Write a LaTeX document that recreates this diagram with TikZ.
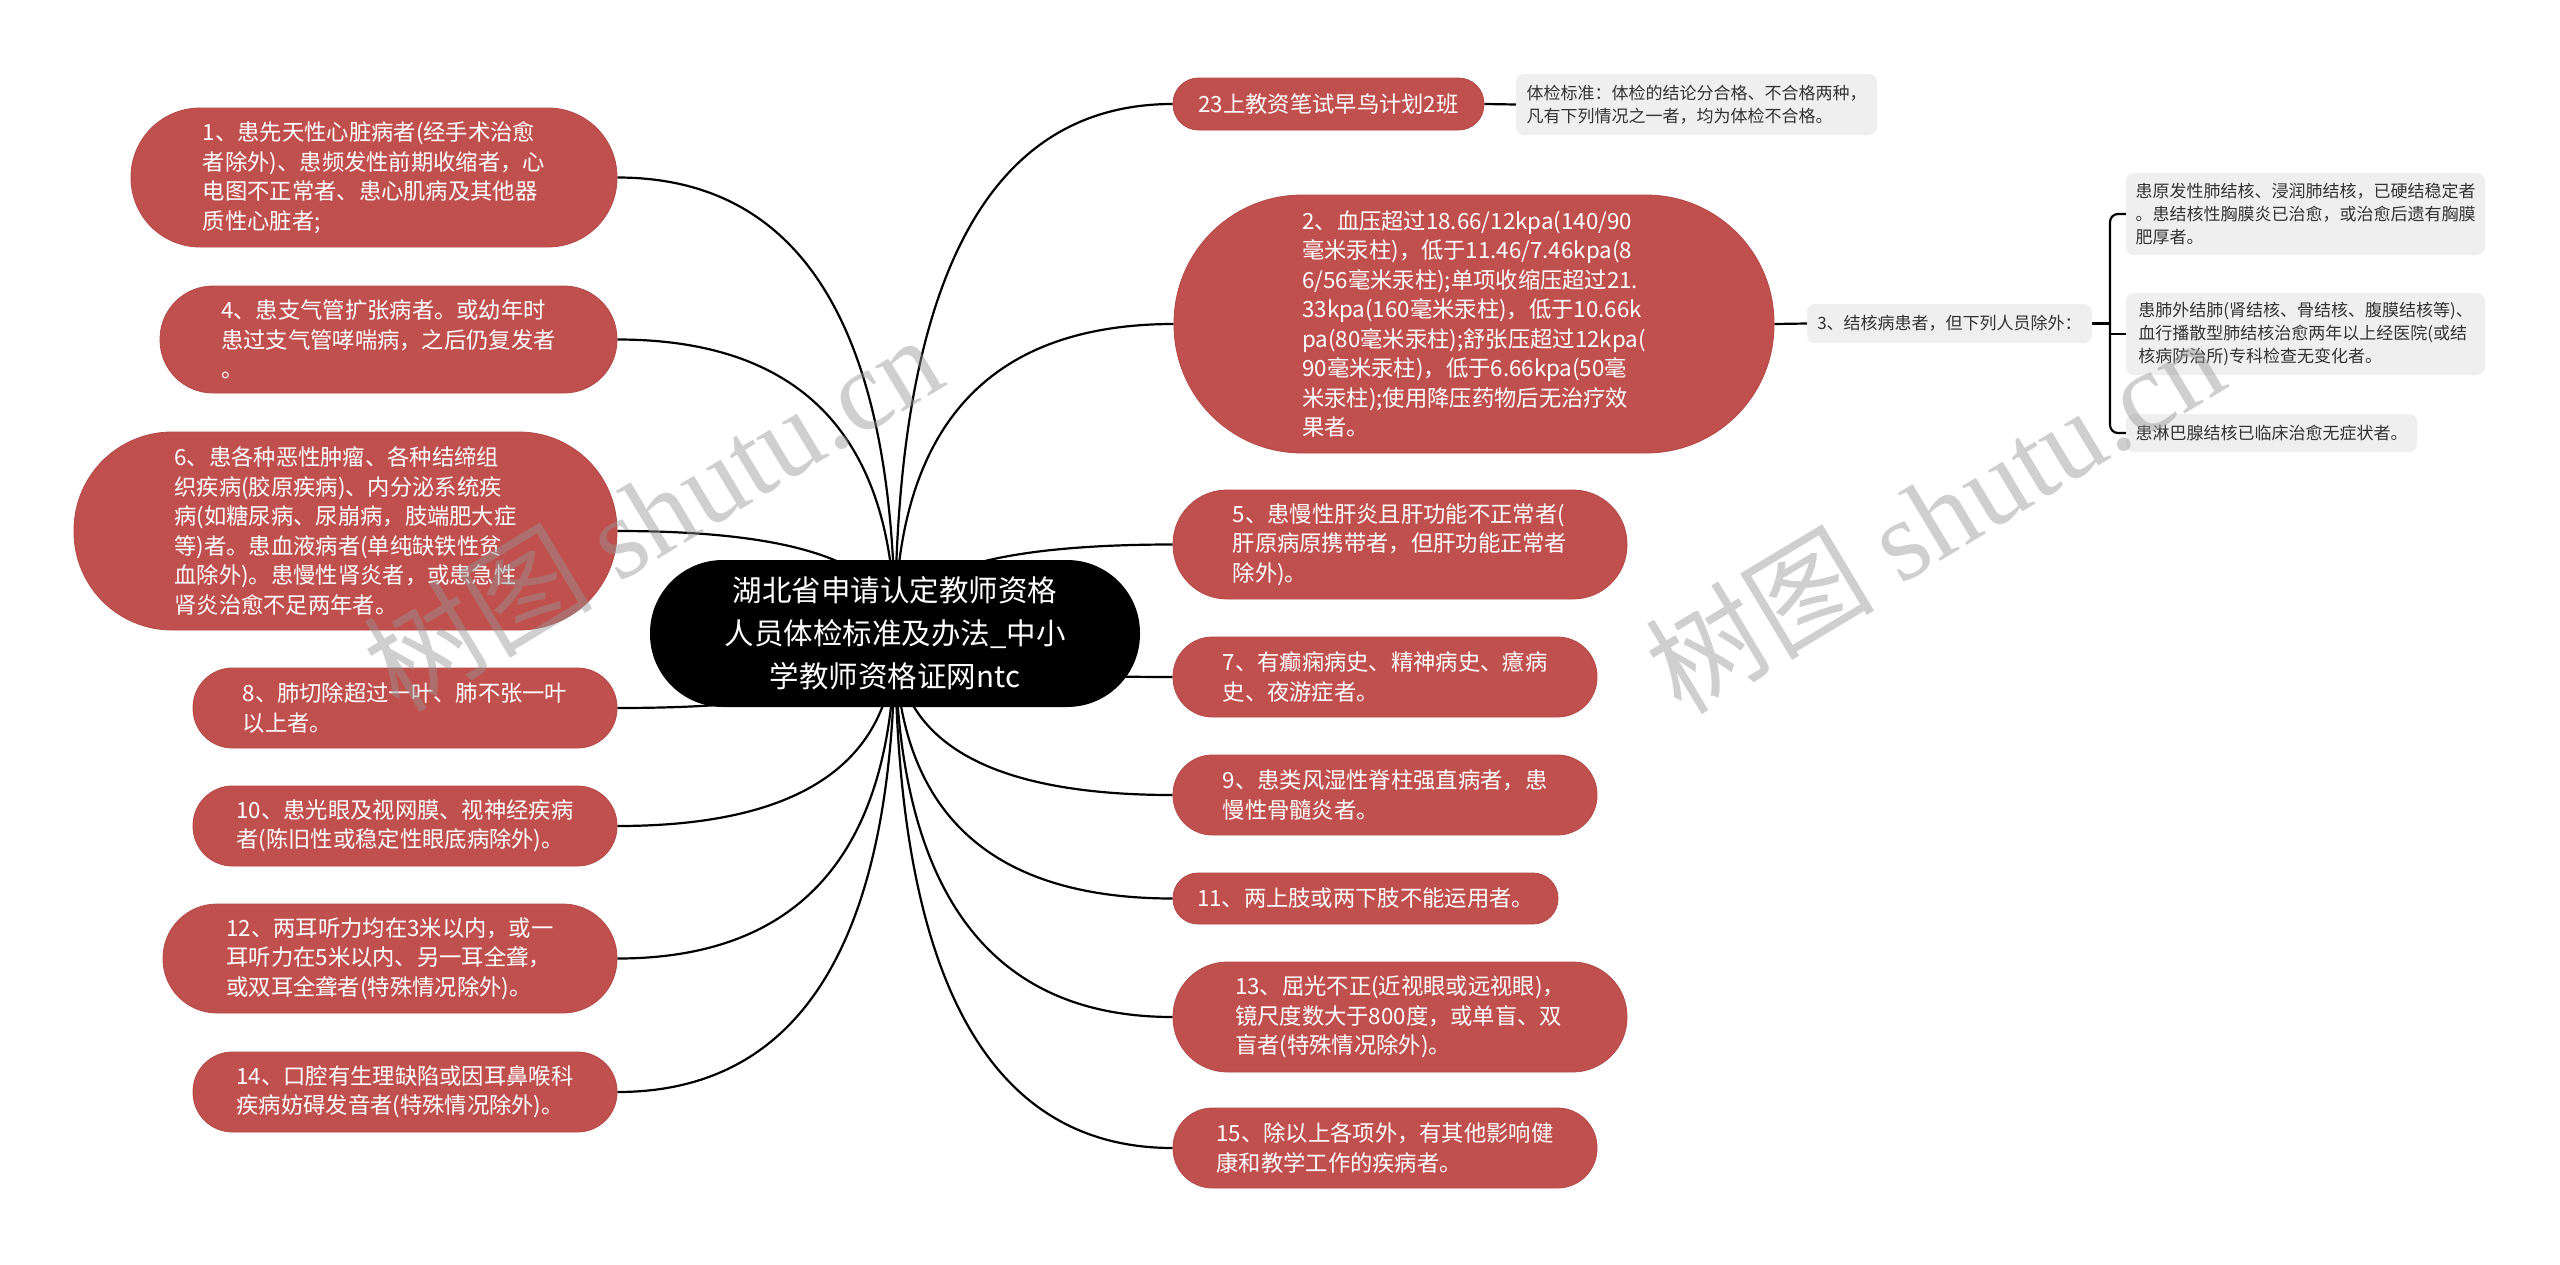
\documentclass[tikz,border=0pt]{standalone}
\usepackage{fontspec}
\setmainfont{Noto Sans CJK SC}
\newfontfamily\cjk{Noto Sans CJK SC}
\newfontfamily\wmserif{Liberation Serif}
\usetikzlibrary{calc}
\pgfdeclarelayer{paper}
\pgfdeclarelayer{bg}
\pgfdeclarelayer{fg}
\pgfsetlayers{paper,bg,main,fg}
\definecolor{nodered}{RGB}{192,80,77}
\definecolor{nodeline}{RGB}{180,72,70}
\definecolor{notegray}{RGB}{239,239,239}
\definecolor{notetext}{RGB}{51,51,51}
\definecolor{wm}{RGB}{150,150,150}
\newcommand\rootlink[2]{%
  \coordinate (k#1) at (root.center |- #1.#2);
  \draw[conn] (root.center) .. controls ($(root.center)!0.6667!(k#1)$) and ($(#1.#2)!0.6667!(k#1)$) .. (#1.#2);
}
\begin{document}
\begin{tikzpicture}[x=1pt,y=-1pt,
  redbox/.style={fill=nodered, draw=nodeline, line width=0.8pt, text=white, align=left, inner sep=0pt, font=\cjk\fontsize{22.3pt}{29.5pt}\selectfont},
  graybox/.style={fill=notegray, rounded corners=8pt, text=notetext, align=left, inner sep=0pt, font=\cjk\fontsize{17pt}{23pt}\selectfont},
  rootbox/.style={fill=black, text=white, align=center, inner sep=0pt, font=\cjk\fontsize{29.5pt}{43pt}\selectfont},
  conn/.style={draw=black, line width=2.2pt},
  wmark/.style={text=wm, text opacity=0.45, rotate=31, inner sep=0pt, font=\fontsize{115pt}{115pt}\selectfont}
]
\begin{pgfonlayer}{paper}
\fill[white] (0,0) rectangle (2560,1264);
\end{pgfonlayer}
\useasboundingbox (0,0) rectangle (2560,1264);

% root
\node[rootbox, minimum width=490pt, minimum height=147pt, rounded corners=73pt] (root) at (895,633.5)
  {湖北省申请认定教师资格\\人员体检标准及办法\_中小\\学教师资格证网ntc};

% left side
\node[redbox, minimum width=486pt, minimum height=139pt, rounded corners=69pt] (n1) at (374,177.5)
  {1、患先天性心脏病者(经手术治愈\\者除外)、患频发性前期收缩者，心\\电图不正常者、患心肌病及其他器\\质性心脏者;};
\node[redbox, minimum width=457pt, minimum height=107pt, rounded corners=53pt] (n4) at (388.5,339.5)
  {4、患支气管扩张病者。或幼年时\\患过支气管哮喘病，之后仍复发者\\。};
\node[redbox, minimum width=543pt, minimum height=198pt, rounded corners=98pt] (n6) at (345.5,531)
  {6、患各种恶性肿瘤、各种结缔组\\织疾病(胶原疾病)、内分泌系统疾\\病(如糖尿病、尿崩病，肢端肥大症\\等)者。患血液病者(单纯缺铁性贫\\血除外)。患慢性肾炎者，或患急性\\肾炎治愈不足两年者。};
\node[redbox, minimum width=424pt, minimum height=80pt, rounded corners=39.5pt] (n8) at (405,708)
  {8、肺切除超过一叶、肺不张一叶\\以上者。};
\node[redbox, minimum width=424pt, minimum height=80pt, rounded corners=39.5pt] (n10) at (405,826)
  {10、患光眼及视网膜、视神经疾病\\者(陈旧性或稳定性眼底病除外)。};
\node[redbox, minimum width=454pt, minimum height=109pt, rounded corners=54pt] (n12) at (390,958.5)
  {12、两耳听力均在3米以内，或一\\耳听力在5米以内、另一耳全聋，\\或双耳全聋者(特殊情况除外)。};
\node[redbox, minimum width=424pt, minimum height=80pt, rounded corners=39.5pt] (n14) at (405,1092)
  {14、口腔有生理缺陷或因耳鼻喉科\\疾病妨碍发音者(特殊情况除外)。};

% right side
\node[redbox, minimum width=311pt, minimum height=52pt, rounded corners=25.5pt] (t23) at (1328.5,104)
  {23上教资笔试早鸟计划2班};
\node[graybox, minimum width=361pt, minimum height=61pt] (note) at (1696.5,104.5)
  {体检标准：体检的结论分合格、不合格两种，\\凡有下列情况之一者，均为体检不合格。};
\node[redbox, minimum width=600pt, minimum height=258pt, rounded corners=128pt] (n2) at (1474,324)
  {2、血压超过18.66/12kpa(140/90\\毫米汞柱)，低于11.46/7.46kpa(8\\6/56毫米汞柱);单项收缩压超过21.\\33kpa(160毫米汞柱)，低于10.66k\\pa(80毫米汞柱);舒张压超过12kpa(\\90毫米汞柱)，低于6.66kpa(50毫\\米汞柱);使用降压药物后无治疗效\\果者。};
\node[graybox, minimum width=285pt, minimum height=39pt] (b3) at (1949.5,323.5)
  {3、结核病患者，但下列人员除外：};
\node[graybox, minimum width=359pt, minimum height=82pt] (sa) at (2305.5,214)
  {患原发性肺结核、浸润肺结核，已硬结稳定者\\。患结核性胸膜炎已治愈，或治愈后遗有胸膜\\肥厚者。};
\node[graybox, minimum width=359pt, minimum height=82pt] (sb) at (2305.5,334)
  {患肺外结肺(肾结核、骨结核、腹膜结核等)、\\血行播散型肺结核治愈两年以上经医院(或结\\核病防治所)专科检查无变化者。};
\node[graybox, minimum width=291pt, minimum height=38pt] (sc) at (2271.5,433)
  {患淋巴腺结核已临床治愈无症状者。};
\node[redbox, minimum width=454pt, minimum height=109pt, rounded corners=54pt] (n5) at (1400,544.5)
  {5、患慢性肝炎且肝功能不正常者(\\肝原病原携带者，但肝功能正常者\\除外)。};
\node[redbox, minimum width=424pt, minimum height=80pt, rounded corners=39.5pt] (n7) at (1385,677)
  {7、有癫痫病史、精神病史、癔病\\史、夜游症者。};
\node[redbox, minimum width=424pt, minimum height=80pt, rounded corners=39.5pt] (n9) at (1385,795)
  {9、患类风湿性脊柱强直病者，患\\慢性骨髓炎者。};
\node[redbox, minimum width=385pt, minimum height=51pt, rounded corners=25pt] (n11) at (1365.5,898.5)
  {11、两上肢或两下肢不能运用者。};
\node[redbox, minimum width=454pt, minimum height=110pt, rounded corners=54.5pt] (n13) at (1400,1017)
  {13、屈光不正(近视眼或远视眼)，\\镜尺度数大于800度，或单盲、双\\盲者(特殊情况除外)。};
\node[redbox, minimum width=424pt, minimum height=80pt, rounded corners=39.5pt] (n15) at (1385,1148)
  {15、除以上各项外，有其他影响健\\康和教学工作的疾病者。};

\coordinate (brx) at (2110,0);

\begin{pgfonlayer}{bg}
  \rootlink{n1}{east}
  \rootlink{n4}{east}
  \rootlink{n6}{east}
  \rootlink{n8}{east}
  \rootlink{n10}{east}
  \rootlink{n12}{east}
  \rootlink{n14}{east}
  \rootlink{t23}{west}
  \rootlink{n2}{west}
  \rootlink{n5}{west}
  \rootlink{n7}{west}
  \rootlink{n9}{west}
  \rootlink{n11}{west}
  \rootlink{n13}{west}
  \rootlink{n15}{west}
  \draw[conn] (t23.east) -- (note.west);
  \draw[conn] (n2.east) -- (b3.west);
  \draw[conn] (b3.east) -- (b3.east -| brx);
  \draw[conn, rounded corners=8pt] (sa.west) -- (sa.west -| brx) -- (sc.west -| brx) -- (sc.west);
  \draw[conn] (sb.west -| brx) -- (sb.west);
\end{pgfonlayer}

\begin{pgfonlayer}{fg}
  \node[wmark] (wm1) at (652,512) {\cjk 树图 \wmserif shutu.cn};
  \node[wmark] (wm2) at (1934,514) {\cjk 树图 \wmserif shutu.cn};
\end{pgfonlayer}
\end{tikzpicture}
\end{document}
